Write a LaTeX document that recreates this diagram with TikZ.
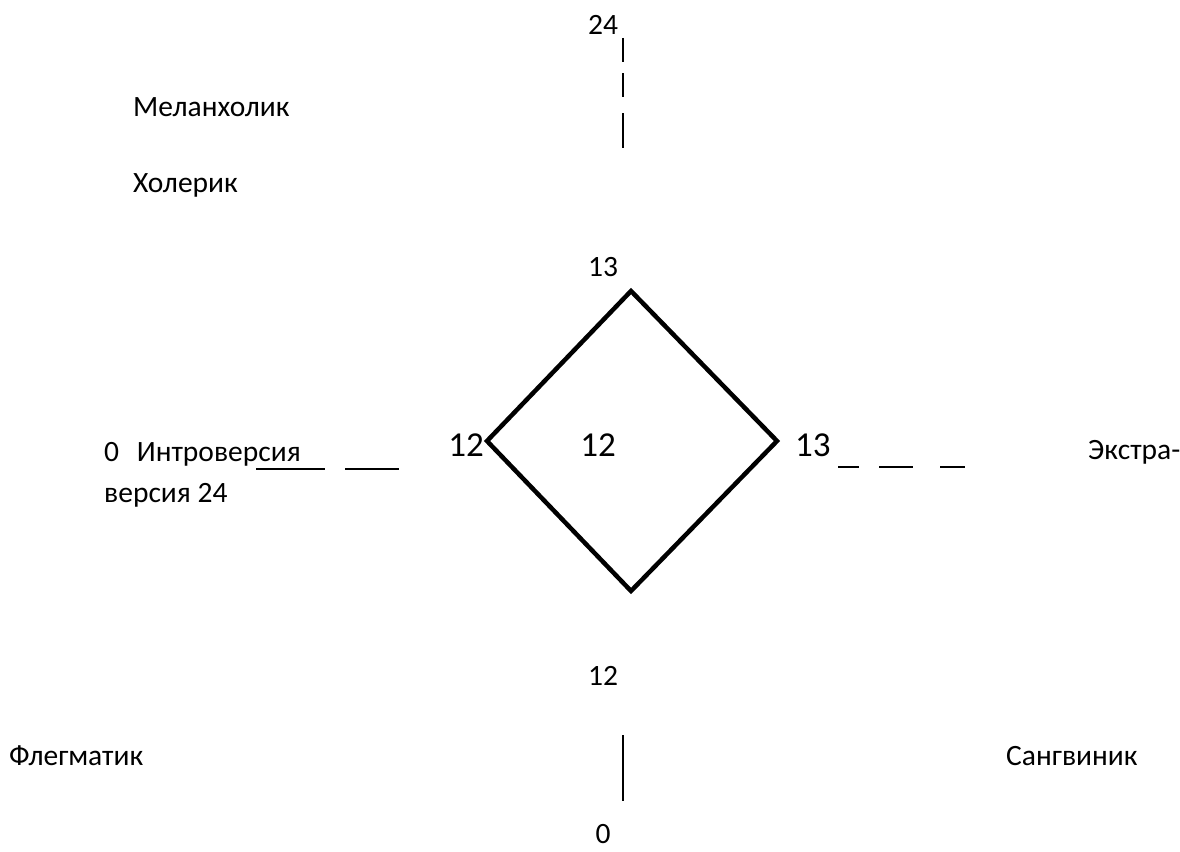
\documentclass[tikz,border=0pt]{standalone}
\usepackage{fontspec}
\setmainfont{Carlito}
\begin{document}
\begin{tikzpicture}[x=1pt,y=-1pt,
  lbl/.style={inner sep=0pt,font=\fontsize{29.5}{35}\selectfont},
  big/.style={inner sep=0pt,font=\fontsize{35}{42}\selectfont},
  axis/.style={line width=1.3pt},
  rhomb/.style={line width=4.5pt,line join=miter}]
\useasboundingbox (0,0) rectangle (1180,851);
% texts
\node[lbl,anchor=base] (t24) at (603,35) {24};
\node[lbl,anchor=base west] (mel) at (133,116) {Меланхолик};
\node[lbl,anchor=base west] (hol) at (133,192) {Холерик};
\node[lbl,anchor=base] (t13) at (603,276) {13};
\node[big,anchor=base east] (l12) at (484,456) {12};
\node[big,anchor=base] (c12) at (598,456) {12};
\node[big,anchor=base west] (r13) at (795,456) {13};
\node[lbl,anchor=base west] (intro) at (104,461) {0\hspace{0.6em}Интроверсия};
\node[lbl,anchor=base west] (ver) at (104,502) {версия 24};
\node[lbl,anchor=base west] (ext) at (1088,459) {Экстра-};
\node[lbl,anchor=base] (b12) at (603,685) {12};
\node[lbl,anchor=base] (b0) at (603,843) {0};
\node[lbl,anchor=base west] (fleg) at (9,765) {Флегматик};
\node[lbl,anchor=base west] (sang) at (1006,765) {Сангвиник};
% diamond
\coordinate (dT) at (631,291);
\coordinate (dR) at (777,441);
\coordinate (dB) at (631,591);
\coordinate (dL) at (487,441);
\draw[rhomb] (dT) -- (dR) -- (dB) -- (dL) -- cycle;
% top axis dashes
\coordinate (u1a) at (623,38); \coordinate (u1b) at (623,62);
\coordinate (u2a) at (623,73); \coordinate (u2b) at (623,97);
\coordinate (u3a) at (623,113); \coordinate (u3b) at (623,148);
\draw[axis] (u1a) -- (u1b);
\draw[axis] (u2a) -- (u2b);
\draw[axis] (u3a) -- (u3b);
% bottom axis
\coordinate (v1a) at (623,735); \coordinate (v1b) at (623,801);
\draw[line width=1.7pt] (v1a) -- (v1b);
% left dashes
\coordinate (l1a) at (256,469); \coordinate (l1b) at (325,469);
\coordinate (l2a) at (279,469); \coordinate (l2b) at (300,469);
\coordinate (l3a) at (345,469); \coordinate (l3b) at (399,469);
\draw[axis] (l1a) -- (l1b);
\draw[line width=2.2pt] (l2a) -- (l2b);
\draw[axis] (l3a) -- (l3b);
% right dashes
\coordinate (r1a) at (838,467); \coordinate (r1b) at (859,467);
\coordinate (r2a) at (879,467); \coordinate (r2b) at (913,467);
\coordinate (r3a) at (940,467); \coordinate (r3b) at (965,467);
\draw[axis] (r1a) -- (r1b);
\draw[axis] (r2a) -- (r2b);
\draw[axis] (r3a) -- (r3b);
\end{tikzpicture}
\end{document}
